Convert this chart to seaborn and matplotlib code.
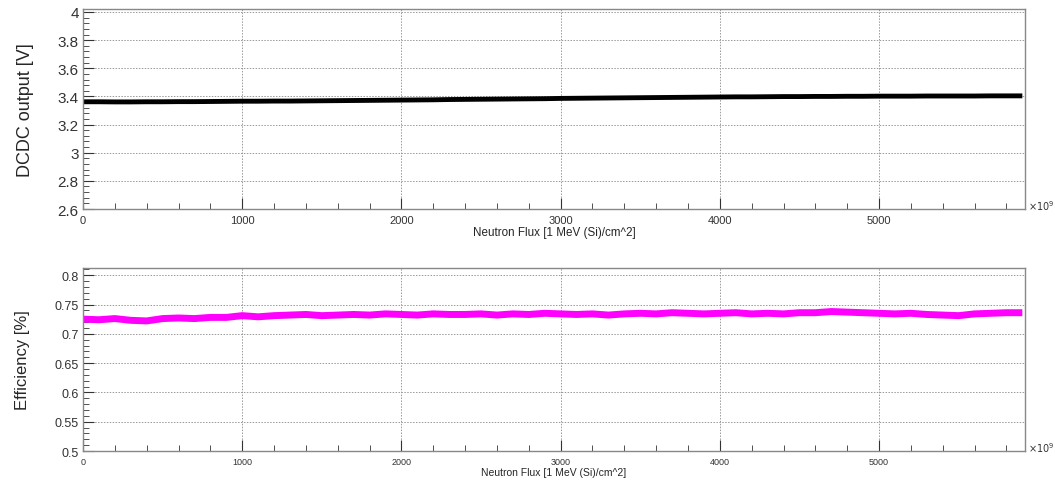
import numpy as np
import pandas as pd
import matplotlib
matplotlib.use("Agg")
import matplotlib.pyplot as plt
from matplotlib.ticker import MultipleLocator
import seaborn as sns

# ---------------- data ----------------
flux = [0, 100, 200, 300, 400, 500, 600, 700, 800, 900,
        1000, 1100, 1200, 1300, 1400, 1500, 1600, 1700, 1800, 1900,
        2000, 2100, 2200, 2300, 2400, 2500, 2600, 2700, 2800, 2900,
        3000, 3100, 3200, 3300, 3400, 3500, 3600, 3700, 3800, 3900,
        4000, 4100, 4200, 4300, 4400, 4500, 4600, 4700, 4800, 4900,
        5000, 5100, 5200, 5300, 5400, 5500, 5600, 5700, 5800, 5900]

dcdc_output = [3.362, 3.362, 3.361, 3.361, 3.362, 3.362, 3.363, 3.363, 3.364, 3.365,
               3.366, 3.366, 3.367, 3.367, 3.368, 3.369, 3.370, 3.371, 3.372, 3.373,
               3.374, 3.375, 3.376, 3.378, 3.379, 3.380, 3.381, 3.382, 3.383, 3.384,
               3.386, 3.387, 3.388, 3.389, 3.390, 3.391, 3.392, 3.393, 3.394, 3.395,
               3.396, 3.397, 3.397, 3.398, 3.399, 3.399, 3.400, 3.400, 3.401, 3.401,
               3.402, 3.402, 3.402, 3.403, 3.403, 3.403, 3.403, 3.404, 3.404, 3.404]

efficiency = [0.725, 0.724, 0.726, 0.723, 0.722, 0.726, 0.727, 0.726, 0.728, 0.728,
              0.731, 0.729, 0.731, 0.732, 0.733, 0.731, 0.732, 0.733, 0.732, 0.734,
              0.733, 0.732, 0.734, 0.733, 0.733, 0.734, 0.732, 0.734, 0.733, 0.735,
              0.734, 0.733, 0.734, 0.732, 0.734, 0.735, 0.734, 0.736, 0.735, 0.734,
              0.735, 0.736, 0.734, 0.735, 0.734, 0.736, 0.736, 0.738, 0.737, 0.736,
              0.735, 0.734, 0.735, 0.733, 0.732, 0.731, 0.734, 0.735, 0.736, 0.736]

x_ticks = [0, 1000, 2000, 3000, 4000, 5000]
top_yticks = [2.6, 2.8, 3.0, 3.2, 3.4, 3.6, 3.8, 4.0]
top_yticklabels = ["2.6", "2.8", "3", "3.2", "3.4", "3.6", "3.8", "4"]
bot_yticks = [0.5, 0.55, 0.6, 0.65, 0.7, 0.75, 0.8]
bot_yticklabels = ["0.5", "0.55", "0.6", "0.65", "0.7", "0.75", "0.8"]

df = pd.DataFrame({"flux": flux, "dcdc": dcdc_output, "eff": efficiency})

# ---------------- style ----------------
sns.set_theme(style="white")
plt.rcParams["font.family"] = ["Liberation Sans", "DejaVu Sans"]

fig = plt.figure(figsize=(10.55, 4.85), dpi=100)
ax1 = fig.add_axes([0.0787, 0.567, 0.8929, 0.412])
ax2 = fig.add_axes([0.0787, 0.068, 0.8929, 0.377])

sns.lineplot(data=df, x="flux", y="dcdc", ax=ax1, color="black", linewidth=3.5,
             solid_capstyle="butt")
sns.lineplot(data=df, x="flux", y="eff", ax=ax2, color="#ff00ff", linewidth=5,
             solid_capstyle="butt")


def style_axes(ax, yticks, yticklabels, ylim, yminor, ytick_fs, xtick_fs, xlabel_fs,
               ylabel, ylabel_fs, ylabelpad):
    ax.set_xlim(0, 5917)
    ax.set_ylim(*ylim)
    ax.set_xticks(x_ticks)
    ax.set_xticklabels([str(v) for v in x_ticks], fontsize=xtick_fs)
    ax.set_yticks(yticks)
    ax.set_yticklabels(yticklabels, fontsize=ytick_fs)
    ax.xaxis.set_minor_locator(MultipleLocator(200))
    ax.yaxis.set_minor_locator(MultipleLocator(yminor))
    ax.tick_params(which="both", direction="in", colors="#333333", left=True, bottom=True,
                   top=False, right=False)
    ax.tick_params(which="major", length=8, width=0.8, pad=3)
    ax.tick_params(which="minor", length=4, width=0.6)
    ax.tick_params(axis="x", which="major", pad=4)
    ax.grid(True, which="major", linestyle=(0, (1.5, 1.5)), color="#999999", linewidth=0.7)
    for s in ax.spines.values():
        s.set_visible(True)
        s.set_color("#888888")
        s.set_linewidth(1.0)
    ax.set_xlabel("Neutron Flux [1 MeV (Si)/cm^2]", fontsize=xlabel_fs, labelpad=1)
    ax.set_ylabel(ylabel, fontsize=ylabel_fs, labelpad=ylabelpad)
    ax.text(1.003, 0.02, r"$\times10^{9}$", transform=ax.transAxes, fontsize=7,
            ha="left", va="center", color="#333333")


style_axes(ax1, top_yticks, top_yticklabels, (2.6, 4.02), 0.04, 11, 8, 8.4,
           "DCDC output [V]", 13, 17)
style_axes(ax2, bot_yticks, bot_yticklabels, (0.5, 0.812), 0.01, 9, 6.5, 7.5,
           "Efficiency [%]", 12, 18)

fig.savefig("out.png", dpi=100)
